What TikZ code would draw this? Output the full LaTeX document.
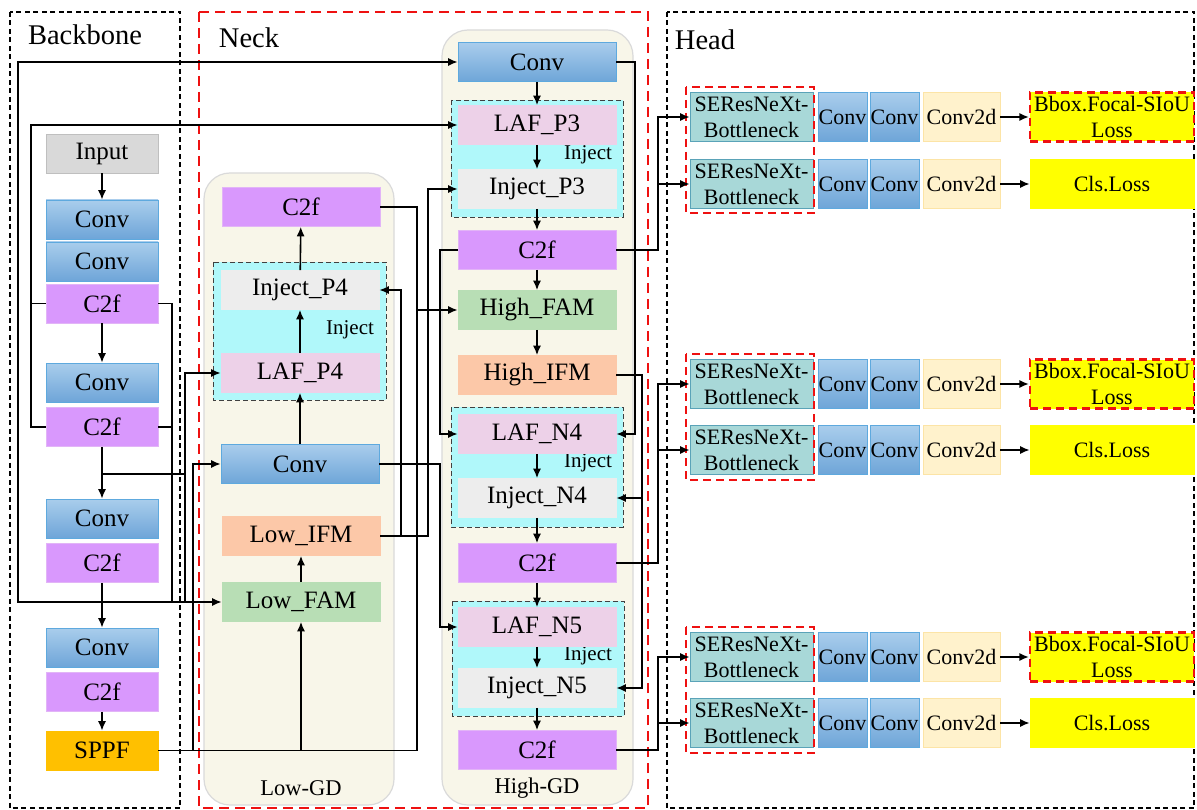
\documentclass[tikz,border=0pt]{standalone}
\usepackage{fontspec}
\setmainfont{Liberation Serif}
\usetikzlibrary{arrows.meta}
\definecolor{convT}{HTML}{A9CDEC}
\definecolor{convB}{HTML}{6EA5D8}
\definecolor{convE}{HTML}{5EA9DE}
\definecolor{cPurp}{HTML}{D998FD}
\definecolor{cPurpE}{HTML}{E2B4F7}
\definecolor{cGray}{HTML}{D9D9D9}
\definecolor{cGrayE}{HTML}{BFBFBF}
\definecolor{cSppf}{HTML}{FFC000}
\definecolor{cLaf}{HTML}{EDD1E8}
\definecolor{cInj}{HTML}{EDEDED}
\definecolor{cCyan}{HTML}{B0F8FA}
\definecolor{cIfm}{HTML}{FCC8A8}
\definecolor{cFam}{HTML}{B8DEB5}
\definecolor{cCream}{HTML}{F8F6E9}
\definecolor{cCreamE}{HTML}{DADADA}
\definecolor{cSe}{HTML}{A8D8D8}
\definecolor{cSeE}{HTML}{5AA3B8}
\definecolor{cC2d}{HTML}{FFF2CC}
\definecolor{cC2dE}{HTML}{FCE4A6}
\definecolor{cYel}{HTML}{FFFF00}
\definecolor{cRed}{HTML}{EE1111}
\begin{document}
\begin{tikzpicture}[x=1pt,y=-1pt,
  base/.style={draw, line width=0.6pt, inner sep=0pt, font=\fontsize{25}{27}\selectfont},
  bb/.style={base, minimum width=112pt, minimum height=39pt},
  ng/.style={base, minimum width=158pt, minimum height=39pt},
  conv/.style={top color=convT, bottom color=convB, draw=convE},
  c2f/.style={fill=cPurp, draw=cPurpE},
  gray/.style={fill=cGray, draw=cGrayE},
  sppf/.style={fill=cSppf, draw=cSppf},
  laf/.style={fill=cLaf, draw=cLaf},
  inj/.style={fill=cInj, draw=cInj},
  ifm/.style={fill=cIfm, draw=cIfm},
  fam/.style={fill=cFam, draw=cFam},
  hd/.style={base, minimum height=49pt, font=\fontsize{22}{26}\selectfont},
  grp/.style={fill=cCyan, draw=black!75, dashed, dash pattern=on 5pt off 3pt, line width=0.9pt},
  cont/.style={fill=cCream, draw=cCreamE, line width=1.2pt, rounded corners=26pt},
  frame/.style={draw=black, dash pattern=on 5pt off 3.5pt, line width=1.2pt},
  redframe/.style={draw=cRed, dash pattern=on 10pt off 6pt, line width=2.6pt},
  redbox/.style={draw=cRed, dash pattern=on 8pt off 5pt, line width=2.2pt},
  lbl/.style={font=\fontsize{21}{23}\selectfont, inner sep=0pt},
  ttl/.style={font=\fontsize{28.5}{30}\selectfont, inner sep=0pt},
  ln/.style={line width=1.6pt},
  arr/.style={line width=1.6pt, -{Latex[length=9.5pt,width=8pt]}}
]
\useasboundingbox (0,0) rectangle (1197,810);
\fill[white] (0,0) rectangle (1197,810);

% outer frames
\draw[frame] (10,12) rectangle (180,808);
\draw[frame] (667,12) rectangle (1194,808);
\draw[redframe] (199,12) rectangle (648,808);
\node[ttl] (tBack) at (85,35) {Backbone};
\node[ttl] (tNeck) at (249,38) {Neck};
\node[ttl] (tHead) at (705,40) {Head};

% containers
\draw[cont] (204,173) rectangle (394,805);
\draw[cont] (442,30) rectangle (633,805);
\node[lbl, font=\fontsize{22.5}{24}\selectfont] (tLow) at (301,788) {Low-GD};
\node[lbl, font=\fontsize{22.5}{24}\selectfont] (tHigh) at (537,788) {High-GD};

% inject groups
\draw[grp] (213,262) rectangle (386,400);
\draw[grp] (451,100) rectangle (623,217);
\draw[grp] (451,407) rectangle (623,527);
\draw[grp] (452,601) rectangle (624,716);
\node[lbl] (i1) at (350,330) {Inject};
\node[lbl] (i2) at (588,155) {Inject};
\node[lbl] (i3) at (588,463) {Inject};
\node[lbl] (i4) at (588,656) {Inject};

% backbone
\node[bb, gray] (bIn) at (102,153.5) {Input};
\node[bb, conv] (bCa) at (102,219.5) {Conv};
\node[bb, conv] (bCb) at (102,261.5) {Conv};
\node[bb, c2f] (bFa) at (102,303.5) {C2f};
\node[bb, conv] (bCc) at (102,382.5) {Conv};
\node[bb, c2f] (bFb) at (102,427) {C2f};
\node[bb, conv] (bCd) at (102,518.5) {Conv};
\node[bb, c2f] (bFc) at (102,563) {C2f};
\node[bb, conv] (bCe) at (102,647.5) {Conv};
\node[bb, c2f] (bFd) at (102,692) {C2f};
\node[bb, sppf] (bSp) at (102,750.5) {SPPF};

% low-GD
\node[ng, c2f] (lF) at (301,207) {C2f};
\node[ng, inj] (lInj) at (300,290) {Inject\_P4};
\node[ng, laf] (lLaf) at (300,373) {LAF\_P4};
\node[ng, conv] (lC) at (300,464) {Conv};
\node[ng, ifm] (lIfm) at (301,536) {Low\_IFM};
\node[ng, fam] (lFam) at (301,602) {Low\_FAM};

% high-GD
\node[ng, conv] (hC) at (537,62) {Conv};
\node[ng, laf] (hLafP3) at (537,125) {LAF\_P3};
\node[ng, inj] (hInjP3) at (537,189) {Inject\_P3};
\node[ng, c2f] (hFa) at (537,250) {C2f};
\node[ng, fam] (hFam) at (537,310) {High\_FAM};
\node[ng, ifm] (hIfm) at (537,375) {High\_IFM};
\node[ng, laf] (hLafN4) at (537,434) {LAF\_N4};
\node[ng, inj] (hInjN4) at (537,498) {Inject\_N4};
\node[ng, c2f] (hFb) at (537,563) {C2f};
\node[ng, laf] (hLafN5) at (537,627) {LAF\_N5};
\node[ng, inj] (hInjN5) at (537,688) {Inject\_N5};
\node[ng, c2f] (hFc) at (537,750) {C2f};

% head
\newcommand{\hrowx}[4]{%
  \node[hd, fill=cSe, draw=cSeE, minimum width=123pt, align=center] (se#1) at (751.5,#2) {SEResNeXt-\\Bottleneck};
  \node[hd, conv, minimum width=49pt] (ca#1) at (842.5,#2) {Conv};
  \node[hd, conv, minimum width=49pt] (cb#1) at (894.5,#2) {Conv};
  \node[hd, fill=cC2d, draw=cC2dE, minimum width=77pt] (cd#1) at (961.5,#2) {Conv2d};
  \node[hd, fill=cYel, draw=cYel, minimum width=164pt, align=center, #4] (ls#1) at (1112,#2) {#3};
  \draw[arr] (cd#1.east) -- (ls#1.west);
}
\hrowx{1}{117}{Bbox.Focal-SIoU\\Loss}{redbox}
\hrowx{2}{184}{Cls.Loss}{}
\hrowx{3}{384}{Bbox.Focal-SIoU\\Loss}{redbox}
\hrowx{4}{450}{Cls.Loss}{}
\hrowx{5}{657}{Bbox.Focal-SIoU\\Loss}{redbox}
\hrowx{6}{723}{Cls.Loss}{}
\draw[redbox] (686,87) rectangle (814,213);
\draw[redbox] (686,354) rectangle (814,480);
\draw[redbox] (686,627) rectangle (814,753);

% backbone arrows
\draw[arr] (bIn) -- (bCa);
\draw[arr] (bFa) -- (bCc);
\draw[arr] (bFb) -- (bCd);
\draw[arr] (bFc) -- (bCe);
\draw[arr] (bFd) -- (bSp);

% backbone to neck
\coordinate (j3) at (102,602);
\coordinate (j2) at (102,474);
\draw[arr] (j3) -- (18,602) |- (hC.west);
\draw[arr] (18,602) -- (lFam.west);
\draw[arr] (bFb.west) -- (31,427) |- (hLafP3.west);
\draw[ln] (bFa.west) -- (31,303.5);
\draw[ln] (bFa.east) -- (172,303.5) -- (172,602);
\draw[ln] (bFb.east) -- (172,427);
\draw[ln] (j2) -- (185,474);
\draw[arr] (185,602) |- (lLaf.west);
\draw[ln] (bSp.east) -- (417,750.5);
\draw[arr] (301,750.5) -- (lFam.south);
\draw[arr] (193,750.5) |- (lC.west);
\draw[arr] (417,750.5) |- (hFam.west);
\draw[ln] (lF.east) -| (417,310);

% low-GD internal
\draw[arr] (lFam) -- (lIfm);
\draw[arr] (lC.north) -- (lLaf.south);
\draw[arr] (lLaf) -- (lInj);
\draw[arr] (lInj) -- (lF);

% low to high
\draw[arr] (lIfm.east) -| (428,189) -- (hInjP3.west);
\draw[arr] (401,536) |- (lInj.east);
\draw[arr] (lC.east) -| (440,627) -- (hLafN5.west);
\draw[arr] (hFa.west) -| (440,434) -- (hLafN4.west);

% high-GD internal
\draw[arr] (hC) -- (hLafP3);
\draw[arr] (hLafP3) -- (hInjP3);
\draw[arr] (hInjP3) -- (hFa);
\draw[arr] (hFa) -- (hFam);
\draw[arr] (hFam) -- (hIfm);
\draw[arr] (hLafN4) -- (hInjN4);
\draw[arr] (hInjN4) -- (hFb);
\draw[arr] (hFb) -- (hLafN5);
\draw[arr] (hLafN5) -- (hInjN5);
\draw[arr] (hInjN5) -- (hFc);
\draw[arr] (hC.east) -| (635,434) -- (hLafN4.east);
\draw[arr] (hIfm.east) -| (642,688) -- (hInjN5.east);
\draw[arr] (642,498) -- (hInjN4.east);

% neck to head
\draw[arr] (hFa.east) -| (658,117) -- (se1.west);
\draw[arr] (658,184) -- (se2.west);
\draw[arr] (hFb.east) -| (658,384) -- (se3.west);
\draw[arr] (658,450) -- (se4.west);
\draw[arr] (hFc.east) -| (658,657) -- (se5.west);
\draw[arr] (658,723) -- (se6.west);
\end{tikzpicture}
\end{document}
